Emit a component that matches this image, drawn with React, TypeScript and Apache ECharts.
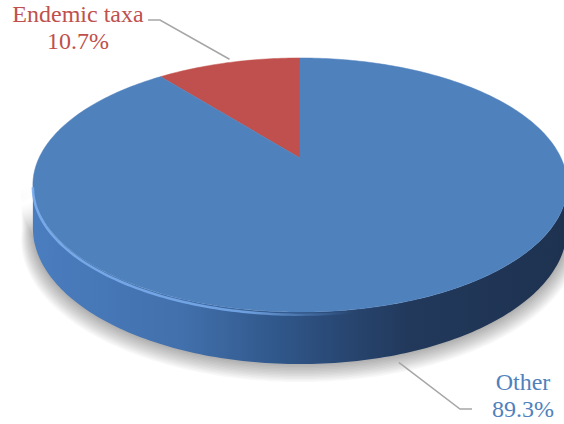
import React, { useEffect, useRef } from "react";
import * as echarts from "echarts";

// ---- data ----
const categories = ["Endemic taxa", "Other"];
const shares = [10.7, 89.3];
const sliceColors = ["#C0504D", "#4F81BD"];
const labelColors = ["#C0504D", "#4F81BD"];

// ---- layout (projection of the 3D disc, label placement) ----
const GEO = { cx: 300, cy: 158, rx: 261, ry: 121.3, k: 0.2126, depth: 41 };
const LABEL_LAYOUT = [
  { x: 78, y: 27, elbow: [160, 20], end: [148, 20], shift: [3, -1] },
  { x: 523, y: 395.5, elbow: [460, 409], end: [472, 409], shift: [-13, 4] },
];
const SERIF = "'Liberation Serif', 'Times New Roman', 'DejaVu Serif', serif";
const TAU = Math.PI * 2;

function proj(theta: number, h: number, r = 1): number[] {
  const u = r * Math.sin(theta);
  const v = r * Math.cos(theta);
  const den = 1 + GEO.k * v;
  return [GEO.cx + (GEO.rx * u) / den, GEO.cy - (GEO.ry * v) / den + (h * GEO.depth) / den];
}

function arc(a: number, b: number, h: number, r = 1, dy = 0): number[][] {
  const n = Math.max(2, Math.ceil(Math.abs(b - a) / (Math.PI / 180)));
  const pts: number[][] = [];
  for (let i = 0; i <= n; i++) {
    const p = proj(a + ((b - a) * i) / n, h, r);
    pts.push([p[0], p[1] + dy]);
  }
  return pts;
}

export default function App() {
  const ref = useRef<HTMLDivElement>(null);
  useEffect(() => {
    if (!ref.current) return;
    const chart = echarts.init(ref.current, null, { renderer: "svg" });
    const wallFill = new echarts.graphic.LinearGradient(
      33, 0, 567, 0,
      [
        { offset: 0, color: "#4a7dbf" },
        { offset: 0.28, color: "#4270ac" },
        { offset: 0.46, color: "#30578a" },
        { offset: 0.57, color: "#294874" },
        { offset: 0.7, color: "#22395c" },
        { offset: 1, color: "#1e3250" },
      ],
      true
    );
    const highlight = new echarts.graphic.LinearGradient(
      33, 0, 567, 0,
      [
        { offset: 0, color: "rgba(125,175,238,0.9)" },
        { offset: 0.4, color: "rgba(120,170,235,0.85)" },
        { offset: 0.6, color: "rgba(100,150,215,0.0)" },
        { offset: 1, color: "rgba(100,150,215,0.0)" },
      ],
      true
    );

    const renderItem = (params: any, api: any) => {
      const n = params.dataInsideLength;
      const idx = params.dataIndex;
      let total = 0;
      for (let i = 0; i < n; i++) total += api.value(0, i);
      let before = 0;
      for (let i = 0; i < params.dataIndexInside; i++) before += api.value(0, i);
      const val = api.value(0);
      const a = (-(before + val) / total) * TAU;
      const b = (-before / total) * TAU;
      const children: any[] = [];

      // top face
      const top = [[GEO.cx, GEO.cy], ...arc(a, b, 0)];
      children.push({
        type: "polygon",
        z2: 5,
        shape: { points: top },
        style: { fill: sliceColors[idx], stroke: sliceColors[idx], lineWidth: 0.5 },
      });

      // outer wall, visible part only
      let a2 = a, b2 = b;
      while (a2 < 0) { a2 += TAU; b2 += TAU; }
      const vs = Math.acos(-GEO.k), ve = TAU - vs;
      for (const off of [0, TAU]) {
        const lo = Math.max(a2, vs + off), hi = Math.min(b2, ve + off);
        if (hi > lo) {
          // soft ground shadow (stacked translucent bands)
          for (let s = 1; s <= 12; s++) {
            const pts = [
              ...arc(lo - 0.05, hi + 0.05, 1, 1 + 0.0035 * s, 0.75 * s),
              ...arc(hi + 0.05, lo - 0.05, 0.2, 1 + 0.0035 * s, 0),
            ];
            children.push({
              type: "polygon",
              z2: 0,
              shape: { points: pts },
              style: { fill: "rgba(0,0,0,0.028)" },
            });
          }
          const pts = [...arc(lo, hi, 0), ...arc(hi, lo, 1)];
          children.push({
            type: "polygon",
            z2: 1,
            shape: { points: pts },
            style: { fill: wallFill },
          });
          children.push({
            type: "polyline",
            z2: 6,
            shape: { points: arc(lo, hi, 0.05) },
            style: { fill: null, stroke: highlight, lineWidth: 2.5 },
          });
        }
      }

      // leader line
      const mid = (a + b) / 2;
      const L = LABEL_LAYOUT[idx];
      const p = Math.cos(mid) >= 0 ? proj(mid, 0, 1.03) : proj(mid, 1, 1.03);
      const anchor = [p[0] + L.shift[0], p[1] + L.shift[1]];
      children.push({
        type: "polyline",
        z2: 10,
        shape: { points: [anchor, L.elbow, L.end] },
        style: { fill: null, stroke: "#A6A6A6", lineWidth: 1.5 },
      });
      return { type: "group", children };
    };

    const total = shares.reduce((s, v) => s + v, 0);
    chart.setOption({
      animation: false,
      backgroundColor: "#ffffff",
      textStyle: { fontFamily: SERIF },
      graphic: shares.map((v, i) => ({
        type: "text",
        x: LABEL_LAYOUT[i].x,
        y: LABEL_LAYOUT[i].y,
        z: 10,
        style: {
          text: `${categories[i]}\n${((v / total) * 100).toFixed(1)}%`,
          fill: labelColors[i],
          font: `24px ${SERIF}`,
          textAlign: "center",
          textVerticalAlign: "middle",
          lineHeight: 27,
        },
      })),
      series: [
        {
          type: "custom",
          coordinateSystem: "none",
          renderItem,
          data: shares.map((v, i) => ({ name: categories[i], value: v })),
        },
      ],
    });
    return () => chart.dispose();
  }, []);
  return (
    <div
      ref={ref}
      style={{ position: "absolute", left: 0, top: 0, width: 564, height: 424 }}
    />
  );
}
